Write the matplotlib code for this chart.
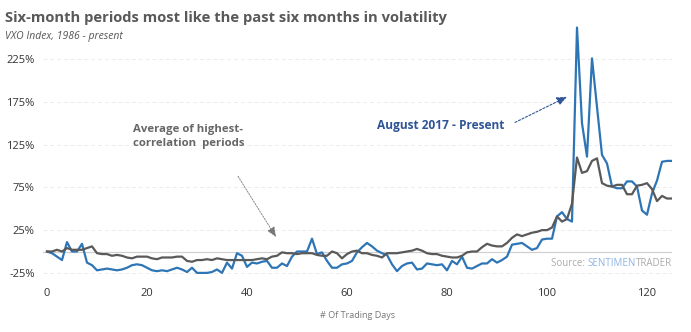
import numpy as np
import matplotlib.pyplot as plt

# values (% change, by trading day)
days = np.arange(126)
present = [0, -2, -6, -10, 11, 0, 0, 9, -13, -16,
           -22, -21, -20, -21, -22, -21, -19, -16, -15, -16,
           -19, -22, -23, -22, -23, -21, -19, -21, -24, -19,
           -25, -25, -25, -24, -21, -25, -13, -20, -2, -5,
           -18, -13, -14, -12, -11, -19, -19, -14, -17, -6,
           0, 0, 0, 15, -3, -1, -11, -19, -19, -15,
           -14, -11, -1, 5, 10, 6, 1, -2, -4, -15,
           -23, -17, -14, -13, -21, -20, -14, -15, -16, -15,
           -22, -11, -15, -6, -19, -20, -17, -14, -14, -9,
           -13, -10, -6, 8, 9, 10, 6, 2, 4, 14,
           15, 15, 41, 46, 38, 35, 262, 150, 111, 226,
           169, 113, 103, 76, 74, 74, 82, 82, 76, 48,
           43, 68, 83, 105, 106, 106]
average = [0, 0, 2, 0, 4, 2, 2, 2, 4, 6,
           -2, -3, -3, -5, -4, -5, -7, -8, -6, -6,
           -6, -8, -9, -7, -7, -7, -6, -6, -11, -12,
           -10, -10, -9, -10, -8, -9, -10, -10, -10, -10,
           -10, -10, -9, -8, -9, -6, -5, -1, -2, -2,
           -3, -2, -2, -2, -4, -5, -5, 0, -2, -8,
           -3, 0, 1, -2, -2, -4, -5, -7, -2, -2,
           -2, -1, 0, 1, 3, 1, -2, -3, -3, -5,
           -6, -7, -7, -5, -1, 0, 0, 5, 9, 7,
           6, 6, 10, 16, 20, 18, 20, 22, 23, 25,
           25, 28, 41, 35, 38, 56, 110, 92, 94, 106,
           109, 80, 77, 76, 78, 78, 67, 67, 77, 78,
           80, 73, 59, 65, 62, 62]
yticks = [-25, 25, 75, 125, 175, 225]
xticks = [0, 20, 40, 60, 80, 100, 120]

plt.rcParams['font.family'] = ['Open Sans', 'DejaVu Sans']

blue = '#2e75b6'
grey = '#595959'

fig = plt.figure(figsize=(6.91, 3.32), dpi=100)
ax = fig.add_axes([43 / 691, 1 - 278 / 332, (672 - 43) / 691, (278 - 25) / 332])

ax.plot(days, present, color=blue, lw=1.6, zorder=3)
ax.plot(days, average, color=grey, lw=1.6, zorder=4)
ax.axhline(0, color='#d0d0d0', lw=0.9, zorder=1)

ax.set_xlim(-0.8, 125)
ax.set_ylim(-31, 265)
ax.set_yticks(yticks)
ax.set_yticklabels([f'{v}%' for v in yticks])
ax.set_xticks(xticks)
ax.grid(axis='y', color='#ececec', ls=(0, (4, 3)), lw=0.7)
for s in ax.spines.values():
    s.set_visible(False)
ax.tick_params(length=0, labelsize=8, labelcolor='#333333')
ax.tick_params(axis='y', pad=6)
ax.tick_params(axis='x', pad=7)
ax.set_xlabel('# Of Trading Days', fontsize=6.5, color='#777777', labelpad=9)

fig.text(5 / 691, 1 - 18 / 332, 'Six-month periods most like the past six months in volatility',
         fontsize=10.6, fontweight='bold', color='#595959', va='center')
fig.text(5 / 691, 1 - 36 / 332, 'VXO Index, 1986 - present',
         fontsize=7.5, style='italic', color='#555555', va='center')

# annotations
ax.text(66, 148, 'August 2017 - Present', fontsize=8.6, fontweight='bold',
        color='#2f5597', va='center')
ax.annotate('', xy=(104, 181), xytext=(93.6, 151),
            arrowprops=dict(arrowstyle='-|>,head_length=0.6,head_width=0.25',
                            ls=(0, (2, 1.5)), lw=0.8, color='#2f5597',
                            shrinkA=0, shrinkB=0))
ax.text(17.2, 135, 'Average of highest-\ncorrelation  periods', fontsize=8.2,
        fontweight='bold', color='#666666', va='center', linespacing=1.35)
ax.annotate('', xy=(45.8, 17), xytext=(38.2, 88),
            arrowprops=dict(arrowstyle='-|>,head_length=0.6,head_width=0.25',
                            ls=(0, (2, 1.5)), lw=0.6, color='#777777',
                            shrinkA=0, shrinkB=0))

# source credit in three colours, built right to left
fig.canvas.draw()
r = fig.canvas.get_renderer()
ypos = 1 - 264 / 332
t3 = fig.text(672 / 691, ypos, 'TRADER', fontsize=7, color='#aaaaaa', ha='right', va='center')
w3 = t3.get_window_extent(r).width
t2 = fig.text((672 - w3) / 691, ypos, 'SENTIMEN', fontsize=7, color='#8db4e2', ha='right', va='center')
w2 = t2.get_window_extent(r).width
fig.text((672 - w3 - w2) / 691, ypos, 'Source: ', fontsize=7, color='#aaaaaa', ha='right', va='center')

fig.savefig('out.png', dpi=100)
